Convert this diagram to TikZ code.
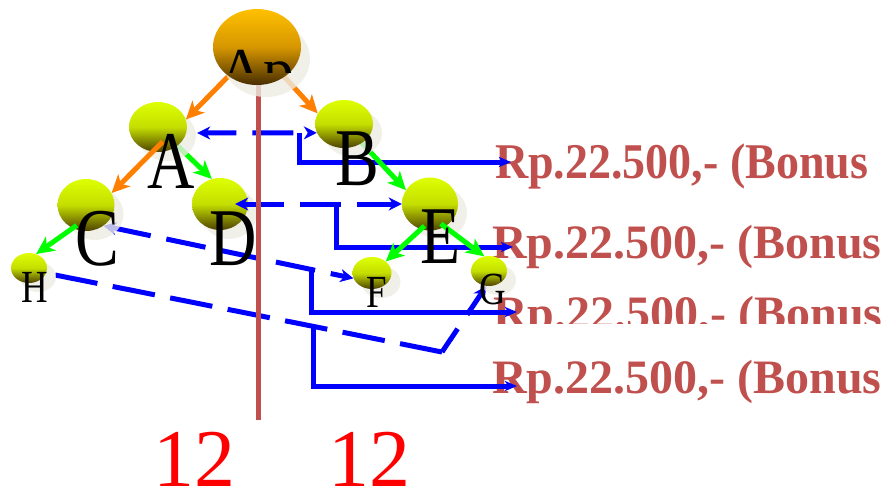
\documentclass[tikz,border=0pt]{standalone}
\usepackage{fontspec}
\usepackage{graphicx}
\setmainfont{Liberation Serif}
\usetikzlibrary{shapes.geometric,shadows,arrows.meta,calc}

\pgfdeclarelayer{bg}
\pgfdeclarelayer{leaves}
\pgfdeclarelayer{mids}
\pgfdeclarelayer{links}
\pgfdeclarelayer{tops}
\pgfdeclarelayer{uplinks}
\pgfdeclarelayer{root}
\pgfsetlayers{bg,leaves,mids,links,tops,uplinks,root,main}

\definecolor{accent}{RGB}{192,80,77}
\definecolor{haze}{RGB}{236,236,228}
\definecolor{lime}{RGB}{221,255,0}
\definecolor{limemid}{RGB}{196,222,0}
\definecolor{olive}{RGB}{78,66,0}
\definecolor{gold}{RGB}{255,192,0}
\definecolor{goldmid}{RGB}{214,150,0}
\definecolor{umber}{RGB}{72,46,0}
\definecolor{linkorange}{RGB}{255,128,0}
\definecolor{linkgreen}{RGB}{0,255,0}
\definecolor{linkblue}{RGB}{0,0,255}

\begin{document}
\begin{tikzpicture}[x=1pt,y=-1pt,
  ball/.style={ellipse, inner sep=0pt, top color=lime, bottom color=olive, middle color=limemid,
    drop shadow={shadow xshift=9pt, shadow yshift=-9pt, fill=haze, opacity=0.8}},
  rootball/.style={ellipse, inner sep=0pt, top color=gold, bottom color=umber, middle color=goldmid,
    drop shadow={shadow xshift=9pt, shadow yshift=-12pt, fill=haze, opacity=0.8}},
  biglabel/.style={anchor=base, inner sep=0pt, font=\fontsize{82}{82}\selectfont},
  smalllabel/.style={anchor=base, inner sep=0pt, font=\fontsize{46}{46}\selectfont},
  bonus/.style={anchor=base west, inner sep=0pt, text=accent, font=\fontsize{48}{48}\selectfont\bfseries},
  tally/.style={anchor=base, inner sep=0pt, text=red, font=\fontsize{82}{82}\selectfont},
  treetip/.style={-{Stealth[length=18pt,width=17pt,inset=5pt]}},
  orangelink/.style={draw=linkorange, line width=5pt, treetip},
  greenlink/.style={draw=linkgreen, line width=5pt, treetip},
  bluelink/.style={draw=linkblue, line width=5pt},
  bluetip/.style={-{Stealth[length=13pt,width=13pt,inset=4pt]}},
  bluetips/.style={{Stealth[length=13pt,width=13pt,inset=4pt]}-{Stealth[length=13pt,width=13pt,inset=4pt]}},
  elbow/.style={bluelink, -{Stealth[length=12pt,width=10pt,inset=3pt]}},
  divider/.style={draw=accent, line width=5pt}
]
\useasboundingbox (0,0) rectangle (889,491);

% ---- tree nodes, each on its own layer
\begin{pgfonlayer}{leaves}
  \node[ball, minimum width=36pt, minimum height=30pt] (H) at (29,268) {};
  \node[ball, minimum width=39pt, minimum height=32pt] (F) at (372,273) {};
  \node[ball, minimum width=36pt, minimum height=30pt] (G) at (489,271) {};
\end{pgfonlayer}
\begin{pgfonlayer}{mids}
  \node[ball, minimum width=57pt, minimum height=52pt] (C) at (86,205) {};
  \node[ball, minimum width=56pt, minimum height=52pt] (D) at (220,204) {};
  \node[ball, minimum width=56pt, minimum height=53pt] (E) at (430,204) {};
\end{pgfonlayer}
\begin{pgfonlayer}{tops}
  \node[ball, minimum width=58pt, minimum height=50pt] (A) at (158,127) {};
  \node[ball, minimum width=58pt, minimum height=48pt] (B) at (344,124) {};
\end{pgfonlayer}
\begin{pgfonlayer}{root}
  \node[rootball, minimum width=88pt, minimum height=76pt] (Ap) at (257,47) {};
\end{pgfonlayer}

% ---- bonus amounts and the links that lead to them
\begin{pgfonlayer}{bg}
  \node[bonus, font=\fontsize{50}{50}\selectfont\bfseries] (r1) at (495,178) {\scalebox{0.92}[1]{Rp.22.500,- (Bonus}};
  \node[bonus] (r2) at (492,258) {Rp.22.500,- (Bonus};
  \begin{scope}
    \clip (480,280) rectangle (889,323);
    \node[bonus] (r3) at (493,329) {Rp.22.500,- (Bonus};
  \end{scope}
  \node[bonus] (r4) at (492,393) {Rp.22.500,- (Bonus};

  \coordinate (t1) at (511,162);
  \coordinate (t2) at (513,247);
  \coordinate (t3) at (517,312);
  \coordinate (t4) at (517,386);
  \coordinate (hg) at (442,352);

  \draw[bluelink, bluetips, dash pattern=on 41pt off 16pt, dash phase=10pt]
    ($(A.east)+(10,6)$) -- coordinate[pos=0.858] (ab) (B.198);
  \draw[elbow] (ab) |- (t1);

  \draw[bluelink, bluetips, dash pattern=on 40pt off 16pt]
    (C.-50) -- coordinate[pos=0.833] (cf) (F.196);
  \draw[elbow] (cf) |- (t3);

  % H to G: long leg, then the short rising leg into G
  \draw[bluelink, dash pattern=on 43pt off 15.6pt]
    ($(H.east)+(8,7)$) -- coordinate[pos=0.667] (hc) (hg);
  \draw[bluelink, bluetip, dash pattern=on 28pt off 17pt] (hg) -- (G.-100);
  \draw[elbow] (hc) |- (t4);
\end{pgfonlayer}

\begin{pgfonlayer}{links}
  \draw[bluelink, bluetips, dash pattern=on 41pt off 16pt]
    ($(D.east)+(-13,0)$) -- coordinate[pos=0.61] (de) (E.west);
  \draw[elbow] (de) |- (t2);
  \draw[greenlink] (A.center) -- (D.108);
  \draw[greenlink] (B.center) -- (E.150);
  \draw[greenlink, shorten <=-5pt] (C.-120) -- (H.63);
  \draw[greenlink, shorten <=-5pt] (E.-110) -- (F.40);
  \draw[greenlink, shorten <=-5pt] (E.-57) -- (G.108);
\end{pgfonlayer}

\begin{pgfonlayer}{uplinks}
  \coordinate (dtop) at (258,60);
  \coordinate (dbot) at (258,420);
  \draw[divider] (dtop) -- (dbot);
  \draw[orangelink] ($(A.center)!0.6!(A.-72)$) -- (C.25);
  \draw[orangelink] (Ap.center) -- (A.15);
  \draw[orangelink] (Ap.center) -- (B.158);
\end{pgfonlayer}

% ---- letters
\begin{scope}
  \clip (200,0) rectangle (320,72);
  \node[anchor=base, inner sep=0pt, font=\fontsize{61}{61}\selectfont] (lAp) at (257,90) {Ap};
\end{scope}
\node[biglabel] (lA) at (171,188) {\scalebox{0.8}[1]{A}};
\node[biglabel] (lB) at (357,185) {\scalebox{0.8}[1]{B}};
\node[biglabel] (lC) at (97,265) {\scalebox{0.8}[1]{C}};
\node[biglabel] (lD) at (233,265) {\scalebox{0.8}[1]{D}};
\node[biglabel] (lE) at (441,263) {\scalebox{0.8}[1]{E}};
\node[smalllabel] (lF) at (377,307) {\scalebox{0.8}[1]{F}};
\node[smalllabel] (lG) at (493,304) {\scalebox{0.8}[1]{G}};
\node[smalllabel] (lH) at (35,302) {\scalebox{0.8}[1]{H}};

\node[tally] (n1) at (194,486) {12};
\node[tally] (n2) at (369,486) {12};
\end{tikzpicture}
\end{document}
